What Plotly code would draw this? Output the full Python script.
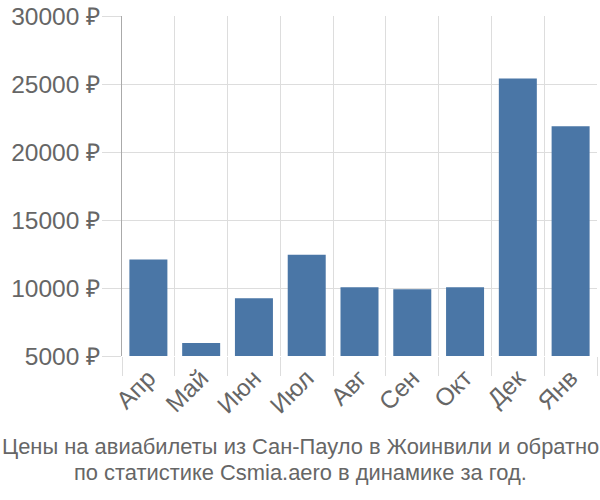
import plotly.graph_objects as go

months = ["Апр", "Май", "Июн", "Июл", "Авг", "Сен", "Окт", "Дек", "Янв"]
prices = [12100, 5950, 9250, 12450, 10050, 9900, 10050, 25400, 21900]
y_ticks = [5000, 10000, 15000, 20000, 25000, 30000]
y_labels = [f"{v} ₽" for v in y_ticks]
title_lines = ["Цены на авиабилеты из Сан-Пауло в Жоинвили и обратно",
               "по статистике Csmia.aero в динамике за год."]

x = list(range(len(months)))
fig = go.Figure(go.Bar(x=x, y=prices, width=0.72, marker=dict(color="#4a76a6", line=dict(width=0))))

fig.update_layout(
    width=600, height=500,
    margin=dict(l=122, r=3, t=14, b=144),
    paper_bgcolor="white", plot_bgcolor="white",
    font=dict(family="Liberation Sans, Arial, sans-serif", color="#666666"),
    showlegend=False,
)
fig.update_xaxes(
    range=[-0.5, len(months) - 0.5],
    tickvals=x, ticktext=months, tickangle=-45,
    tickfont=dict(size=24.5, color="#666666"),
    showgrid=False, ticks="", zeroline=False,
    showline=False, ticklabelstandoff=2,
    minor=dict(tick0=-0.5, dtick=1, showgrid=True, gridcolor="#dddddd", gridwidth=1,
               ticks="outside", ticklen=19, tickcolor="#dddddd", tickwidth=1),
)
fig.update_yaxes(
    range=[5000, 30000],
    tickvals=y_ticks, ticktext=y_labels,
    tickfont=dict(size=24.5, color="#666666"),
    showgrid=True, gridcolor="#dddddd", gridwidth=1,
    ticks="outside", ticklen=19, tickcolor="#dddddd",
    ticklabelstandoff=-3,
    showline=True, linecolor="#aaaaaa", linewidth=1,
    zeroline=False,
)
fig.add_shape(type="line", xref="x", x0=-0.5, x1=-0.5, yref="y", ysizemode="pixel",
              yanchor=5000, y0=0, y1=-19, line=dict(color="#aaaaaa", width=1))
for i, (line, shift) in enumerate(zip(title_lines, [-90, -116])):
    fig.add_annotation(
        text=line, xref="paper", yref="paper",
        x=0.5, y=0, xanchor="center", yanchor="middle", yshift=shift,
        xshift=-59.5,
        showarrow=False, align="center",
        font=dict(size=21.9, color="#666666"),
    )
fig.write_html("out.html")
